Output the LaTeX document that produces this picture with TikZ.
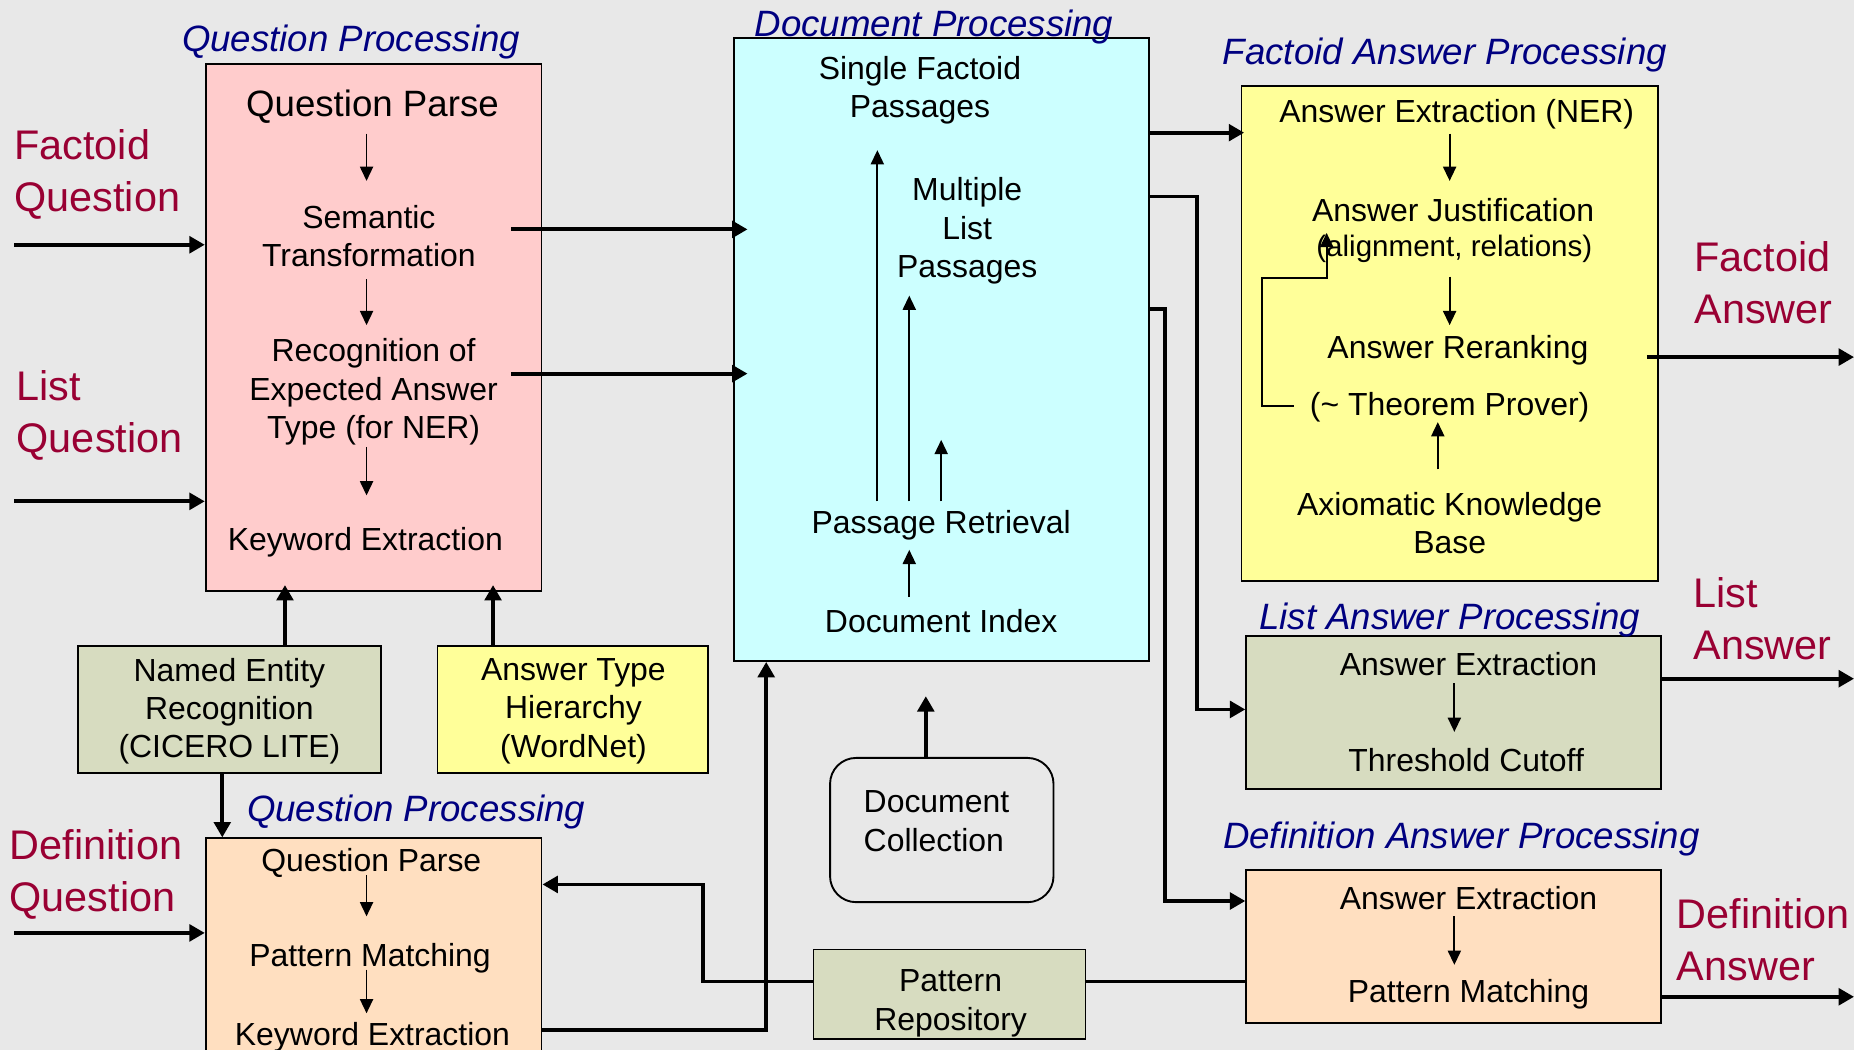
\documentclass[tikz,border=0pt]{standalone}
\usepackage{fontspec}
\setmainfont{Liberation Sans}
\usetikzlibrary{arrows.meta,calc}
\definecolor{bggray}{RGB}{232,232,232}
\definecolor{pinkfill}{RGB}{255,204,204}
\definecolor{cyanfill}{RGB}{204,255,255}
\definecolor{yellowfill}{RGB}{255,255,153}
\definecolor{olivefill}{RGB}{215,220,192}
\definecolor{peachfill}{RGB}{255,223,192}
\definecolor{navy}{RGB}{0,0,128}
\definecolor{maroon}{RGB}{153,0,51}
\newcommand\boxfnt{\fontsize{27}{32.5}\selectfont}
\newcommand\smallfnt{\fontsize{25}{30}\selectfont}
\newcommand\parsefnt{\fontsize{31}{36}\selectfont}
\newcommand\ttlfnt{\fontsize{31}{36}\selectfont\itshape}
\newcommand\iofnt{\fontsize{35}{44}\selectfont}
\def\txtdrop{-3.5pt}

\begin{document}
\begin{tikzpicture}[
    x=1pt, y=-1pt,
    box/.style={
      draw, line width=1.6pt, inner sep=0pt
    },
    txt/.style={
      font=\boxfnt, align=center, inner sep=0pt, yshift=\txtdrop
    },
    title/.style={
      font=\ttlfnt, text=navy, inner sep=0pt, yshift=\txtdrop
    },
    io/.style={
      font=\iofnt, text=maroon, align=left, anchor=west, inner sep=0pt, yshift=\txtdrop
    },
    bigline/.style={
      line width=3.2pt
    },
    bigarrow/.style={
      line width=3.2pt, -{Triangle[length=13pt,width=14pt]}
    },
    smallarrow/.style={
      line width=1.6pt, -{Triangle[length=12pt,width=11pt]}
    }
  ]
    \fill[bggray] (0,0) rectangle (1568,888);
    \useasboundingbox (0,0) rectangle (1568,888);

    % boxes
    \node[box, fill=pinkfill, minimum width=284pt, minimum height=446pt] (qpbox) at (316,277) {};
    \node[box, fill=cyanfill, minimum width=351pt, minimum height=527pt] (dpbox) at (796.5,295.5) {};
    \node[box, fill=yellowfill, minimum width=352pt, minimum height=418pt] (fabox) at (1226,282) {};
    \node[box, fill=olivefill, minimum width=256pt, minimum height=108pt] (nerbox) at (194,600) {};
    \node[box, fill=yellowfill, minimum width=229pt, minimum height=108pt] (atbox) at (484.5,600) {};
    \node[box, rounded corners=22pt, minimum width=189pt, minimum height=122pt] (dcbox) at (796.5,702) {};
    \node[box, fill=olivefill, minimum width=351pt, minimum height=129pt] (labox) at (1229.5,602.5) {};
    \node[box, fill=peachfill, minimum width=284pt, minimum height=191pt] (dqbox) at (316,804.5) {};
    \node[box, fill=olivefill, minimum width=230pt, minimum height=76pt] (prbox) at (803,841) {};
    \node[box, fill=peachfill, minimum width=351pt, minimum height=129pt] (dabox) at (1229.5,800.5) {};

    % titles
    \node[title] (qptitle) at (297,32) {Question Processing};
    \node[title] (dptitle) at (790,19) {Document Processing};
    \node[title] (fatitle) at (1222,43) {Factoid Answer Processing};
    \node[title] (latitle) at (1226,521) {List Answer Processing};
    \node[title] (dqtitle) at (352,683) {Question Processing};
    \node[title] (datitle) at (1236,706) {Definition Answer Processing};

    % inputs and outputs
    \node[io] (fq) at (12,144) {Factoid\\Question};
    \node[io] (lq) at (14,348) {List\\Question};
    \node[io] (dq) at (8,736) {Definition\\Question};
    \node[io] (fa) at (1433,235.5) {Factoid\\Answer};
    \node[io] (la) at (1432,519.5) {List\\Answer};
    \node[io] (da) at (1418,791.5) {Definition\\Answer};

    % question processing
    \node[txt, font=\parsefnt] (qparse) at (315,87) {Question Parse};
    \node[txt] (semtr) at (312,196) {Semantic\\Transformation};
    \node[txt] (recog) at (316,328) {Recognition of\\Expected Answer\\Type (for NER)};
    \node[txt] (kwext) at (309,455) {Keyword Extraction};
    \node[txt] (ner) at (194,598) {Named Entity\\Recognition\\(CICERO LITE)};
    \node[txt] (ath) at (485,598) {Answer Type\\Hierarchy\\(WordNet)};

    % document processing
    \node[txt] (sfp) at (778,73) {Single Factoid\\Passages};
    \node[txt] (mlp) at (818,192) {Multiple\\List\\Passages};
    \node[txt] (passret) at (796,441) {Passage Retrieval};
    \node[txt] (docidx) at (796,522) {Document Index};
    \node[txt, align=left] (doccoll) at (792,691) {Document\\Collection};
    \node[txt] (patrep) at (804,845) {Pattern\\Repository};

    % factoid answers
    \node[txt] (aext) at (1232,93) {Answer Extraction (NER)};
    \node[txt] (ajust) at (1229,174) {Answer Justification};
    \node[txt, font=\smallfnt] (align) at (1230,207) {(alignment, relations)};
    \node[txt] (arerank) at (1233,293) {Answer Reranking};
    \node[txt] (thprover) at (1226,341) {(\textasciitilde{} Theorem Prover)};
    \node[txt] (akb) at (1226,439) {Axiomatic Knowledge\\Base};

    % list and definition answers
    \node[txt] (laext) at (1242,558) {Answer Extraction};
    \node[txt] (thcut) at (1240,639) {Threshold Cutoff};
    \node[txt] (daext) at (1242,756) {Answer Extraction};
    \node[txt] (dpmatch2) at (1242,837) {Pattern Matching};
    \node[txt] (dqparse) at (314,726) {Question Parse};
    \node[txt] (dpmatch) at (313,807) {Pattern Matching};
    \node[txt] (dkwext) at (315,874) {Keyword Extraction};

    \coordinate (fqin) at (12,207);
    \coordinate (lqin) at (12,424);
    \coordinate (dqin) at (12,789);
    \coordinate (faout) at (1568,302);
    \coordinate (laout) at (1568,574);
    \coordinate (daout) at (1568,843);

    \draw[bigarrow] (fqin) -- (fqin -| qpbox.west);
    \draw[bigarrow] (lqin) -- (lqin -| qpbox.west);
    \draw[bigarrow] (dqin) -- (dqin -| dqbox.west);
    \draw[bigarrow] ($(semtr.east)+(30,-5.5)$) -- ($(semtr.east -| dpbox.west)+(12,-5.5)$);
    \draw[bigarrow] ($(recog.east)+(11,-15.5)$) -- ($(recog.east -| dpbox.west)+(12,-15.5)$);
    \draw[bigarrow] ($(nerbox.north)+(47,0)$) -- ($(qpbox.south)+(-75,-6)$);
    \draw[bigarrow] ($(atbox.north)+(-67.5,0)$) -- ($(qpbox.south)+(101,-6)$);
    \draw[bigarrow] ($(nerbox.south)+(-6,0)$) -- ($(dqbox.north)+(-128,0)$);
    \draw[bigarrow] ($(dqbox.east)+(0,66.5)$) -| ($(dpbox.south)+(-148.5,0)$);
    \draw[bigarrow] ($(dcbox.north)+(-13.5,0)$) -- ($(dpbox.south)+(-13.5,29)$);
    \draw[bigarrow] ($(dpbox.north east)+(0,81)$) -- ($(fabox.north west)+(3,40)$);
    \draw[bigarrow] ($(dpbox.north east)+(0,135)$) -| ($(labox.west)+(-41,-2.5)$) -- ($(labox.west)+(0,-2.5)$);
    \draw[bigarrow] ($(dpbox.north east)+(0,230)$) -| ($(dabox.west)+(-68,-38.5)$) -- ($(dabox.west)+(0,-38.5)$);
    \draw[bigarrow] ($(prbox.west)+(0,-11)$) -| ($(dqbox.east)+(136,-56.5)$) -- ($(dqbox.east)+(0,-56.5)$);
    \draw[bigline] ($(prbox.east)+(0,-11)$) -- ($(prbox.east -| dabox.west)+(0,-11)$);
    \draw[bigarrow] ($(faout -| fabox.east)+(-10,0)$) -- (faout);
    \draw[bigarrow] (laout -| labox.east) -- (laout);
    \draw[bigarrow] (daout -| dabox.east) -- (daout);

    % steps inside the boxes
    \draw[smallarrow] ($(qparse)+(-5,22.5)$) -- ($(semtr)+(-2,-46.5)$);
    \draw[smallarrow] ($(semtr)+(-2,36.5)$) -- ($(recog)+(-6,-56.5)$);
    \draw[smallarrow] ($(recog)+(-6,46.5)$) -- ($(kwext)+(1,-39.5)$);
    \draw[smallarrow] ($(passret)+(-54,-20.5)$) -- ($(sfp)+(-36,50.5)$);
    \draw[smallarrow] ($(passret)+(-27,-20.5)$) -- ($(mlp)+(-49,54.5)$);
    \draw[smallarrow] ($(passret)+(0,-20.5)$) -- ($(passret)+(0,-72.5)$);
    \draw[smallarrow] ($(docidx)+(-27,-20.5)$) -- ($(passret)+(-27,20.5)$);
    \draw[smallarrow] ($(aext)+(-6,16.5)$) -- ($(ajust)+(-3,-24.5)$);
    \draw[smallarrow] ($(align)+(-4,23.5)$) -- ($(arerank)+(-7,-21.5)$);
    \draw[smallarrow] ($(akb)+(-10,-45.5)$) -- ($(thprover)+(-10,12.5)$);
    \draw[smallarrow] ($(thprover)+(-132,-1.5)$) -| ($(ajust)+(-162,57.5)$) -| ($(align)+(-108,-13.5)$);
    \draw[smallarrow] ($(laext)+(-12,16.5)$) -- ($(thcut)+(-10,-23.5)$);
    \draw[smallarrow] ($(daext)+(-12,15.5)$) -- ($(dpmatch2)+(-12,-24.5)$);
    \draw[smallarrow] ($(dqparse)+(-4,10.5)$) -- ($(dpmatch)+(-3,-35.5)$);
    \draw[smallarrow] ($(dpmatch)+(-3,9.5)$) -- ($(dkwext)+(-5,-20.5)$);
  \end{tikzpicture}
\end{document}
